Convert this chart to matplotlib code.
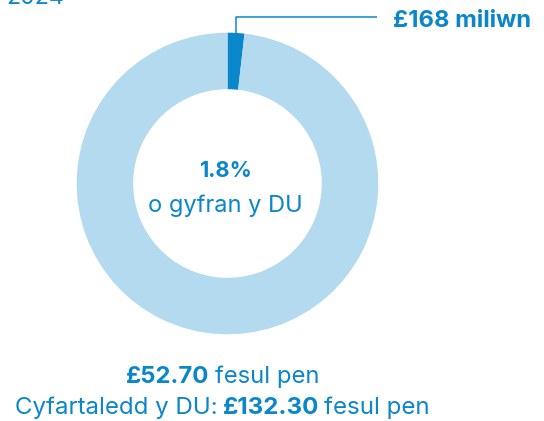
import matplotlib
matplotlib.use("Agg")
import matplotlib.pyplot as plt
import numpy as np

# ---- data ----
segments = ["Cymru", "Gweddill y DU"]
shares = [1.8, 98.2]            # % of UK total
wales_amount_label = "£168 miliwn"
share_label = "1.8%"
share_caption = "o gyfran y DU"
per_head_value = "£52.70"
uk_avg_value = "£132.30"
year_label = "2024"

DARK = "#0A86CB"
LIGHT = "#B3DAEE"
FONT = "Inter"

W, H = 544, 421
fig = plt.figure(figsize=(W / 100, H / 100), dpi=100)
ax = fig.add_axes([0, 0, 1, 1])
renderer = fig.canvas.get_renderer()

cx, cy = 227.5, H - 183.5
R_out, R_in = 150.8, 94.3

wedges, _ = ax.pie(shares, radius=R_out, center=(cx, cy), startangle=90,
                   counterclock=False, colors=[DARK, LIGHT],
                   wedgeprops=dict(width=R_out - R_in, linewidth=0))
ax.set_xlim(0, W)
ax.set_ylim(0, H)
ax.set_aspect("auto")
ax.axis("off")


def fit_text(x, y, s, target_w, bold=False, ha="left", base=16):
    t = ax.text(x, y, s, color=DARK, fontsize=base,
                fontweight="bold" if bold else "normal", family=FONT,
                ha=ha, va="baseline")
    w = t.get_window_extent(renderer=renderer).width
    t.set_fontsize(base * target_w / w)
    return t


# leader line from middle of the first wedge
w0 = wedges[0]
mid = np.deg2rad((w0.theta1 + w0.theta2) / 2)
lx = cx + R_out * np.cos(mid)
ly = cy + R_out * np.sin(mid)
ax.plot([lx, lx, 377], [ly, H - 16.7, H - 16.7], color=DARK, lw=1.1,
        solid_capstyle="butt")
fit_text(393, H - 27, wales_amount_label, 138, bold=True)

# centre text
fit_text(225, H - 177.3, share_label, 53, bold=True, ha="center")
fit_text(225.5, H - 212, share_caption, 155, ha="center")

# partially visible year label at the top
fit_text(6, H - 3.5, year_label, 58)


# mixed weight lines at bottom
def mixed_line(parts, x_left, x_right, y_base, base=16):
    def layout(size):
        arts, widths = [], []
        for txt, bold in parts:
            t = ax.text(0, y_base, txt, color=DARK, fontsize=size,
                        fontweight="bold" if bold else "normal", family=FONT,
                        ha="left", va="baseline")
            arts.append(t)
            widths.append(t.get_window_extent(renderer=renderer).width)
        space = size * 0.3
        return arts, widths, space

    arts, widths, space = layout(base)
    total = sum(widths) + space * (len(parts) - 1)
    for a in arts:
        a.remove()
    size = base * (x_right - x_left) / total
    arts, widths, space = layout(size)
    x = x_left
    for t, w in zip(arts, widths):
        t.set_x(x)
        x += w + space


mixed_line([(per_head_value, True), ("fesul pen", False)], 126, 320, H - 383.3)
mixed_line([("Cyfartaledd y DU:", False), (uk_avg_value, True),
            ("fesul pen", False)], 15, 432, H - 414)

fig.savefig("out.png", dpi=100)
